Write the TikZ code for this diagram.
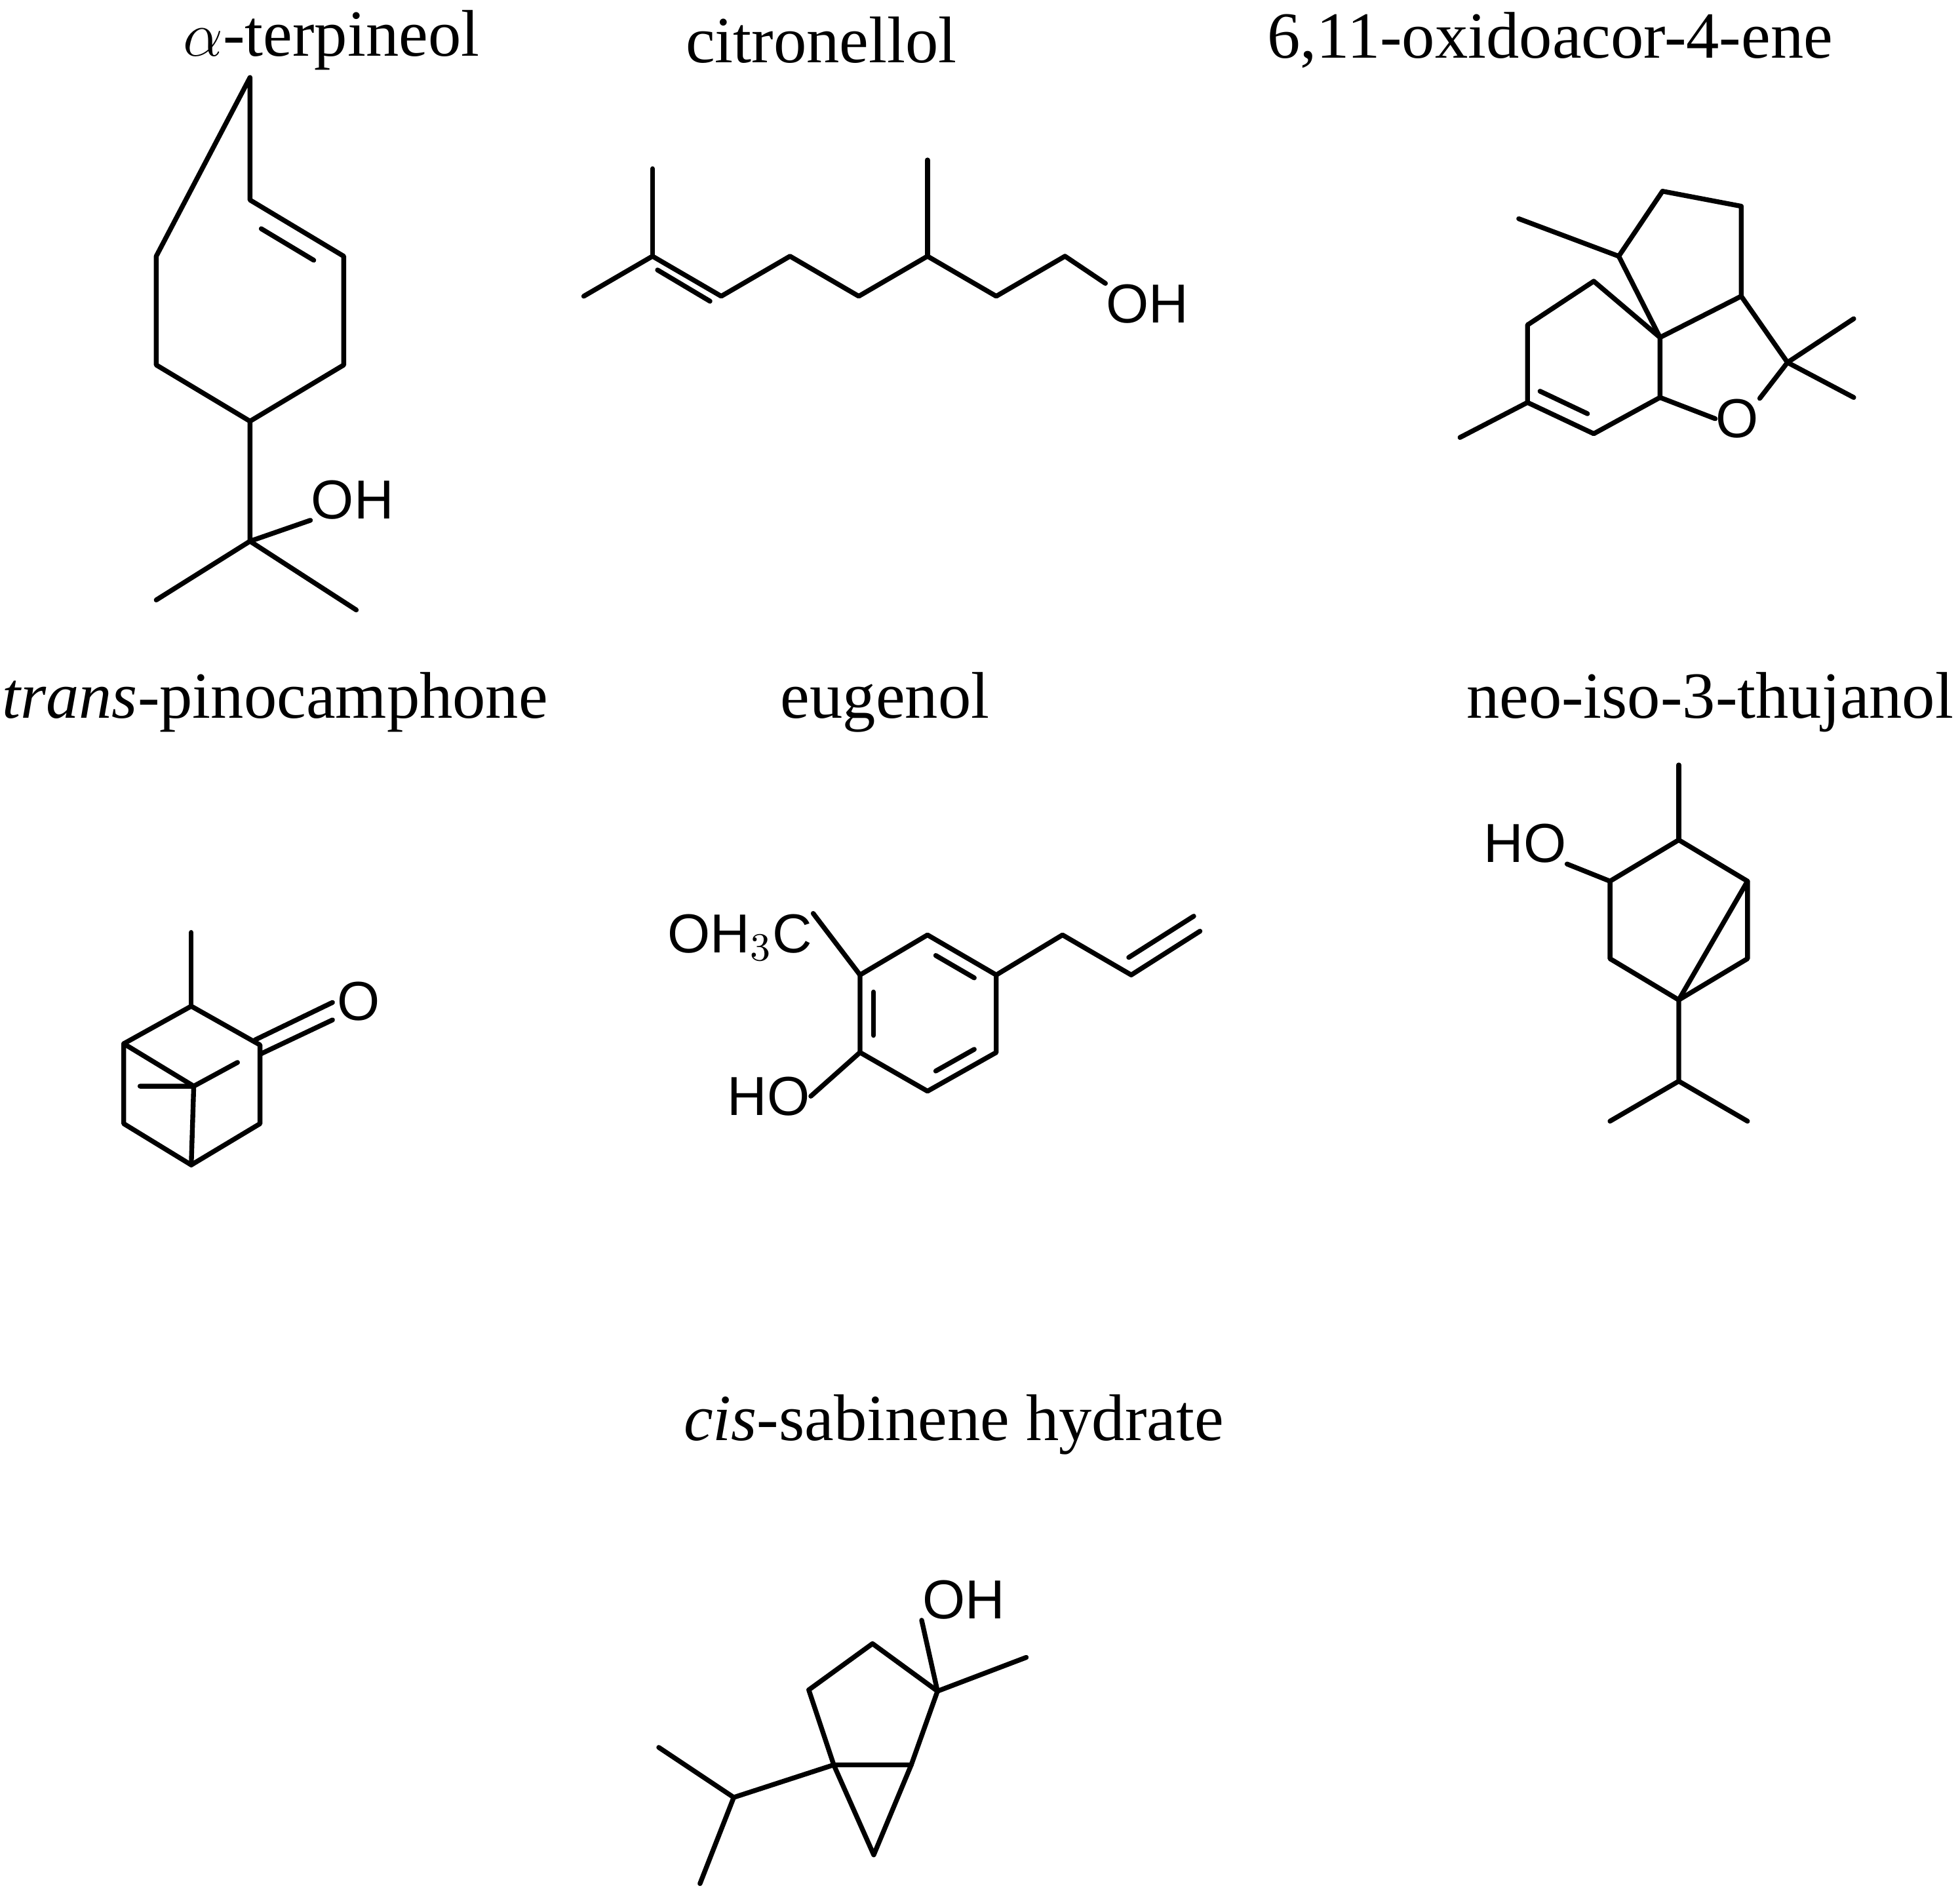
\documentclass[tikz,border=0pt]{standalone}
\usepackage{fontspec}
\setmainfont{Liberation Serif}
\newfontfamily\atomfont{Liberation Sans}
\usetikzlibrary{calc}
\tikzset{
  bond/.style={line width=1.1pt, line cap=round, line join=round},
  title/.style={font=\fontsize{15}{18}\selectfont, inner sep=0pt},
  atom/.style={font=\atomfont\fontsize{12.5}{15}\selectfont, inner sep=0pt}
}
% inner line of a ring double bond: ends a, b, ring centre c
\newcommand{\ringdbl}[3]{\draw[bond] ($($(#1)!.15!(#2)$)!.2!(#3)$) -- ($($(#2)!.15!(#1)$)!.2!(#3)$);}
\begin{document}
\begin{tikzpicture}[x=0.01cm, y=-0.01cm]
  \useasboundingbox (0,0) rectangle (1568,1516);

  % titles
  \node[title] (tterp) at (265,32) {$\alpha$-terpineol};
  \node[title] (tcitro) at (657,32) {citronellol};
  \node[title] (tacor) at (1240,32) {6,11-oxidoacor-4-ene};
  \node[title] (tpino) at (220,562) {\textit{trans}-pinocamphone};
  \node[title] (teug) at (708,562) {eugenol};
  \node[title] (tthuj) at (1368,562) {neo-iso-3-thujanol};
  \node[title] (tsab) at (763,1140) {\textit{cis}-sabinene hydrate};

  % alpha-terpineol
  \coordinate (a0) at (200,62);
  \coordinate (a1) at (200,160);
  \coordinate (a2) at (275,205);
  \coordinate (a3) at (275,292);
  \coordinate (a4) at (200,337);
  \coordinate (a5) at (125,292);
  \coordinate (a6) at (125,205);
  \coordinate (ac) at (200,248);
  \coordinate (a7) at (200,433);
  \coordinate (a8) at (125,480);
  \coordinate (a9) at (285,488);
  \node[atom] (aoh) at (282,400) {OH};
  \draw[bond] (a0) -- (a1) -- (a2) -- (a3) -- (a4) -- (a5) -- (a6) -- cycle;
  \ringdbl{a1}{a2}{ac}
  \draw[bond] (a4) -- (a7) -- (a8);
  \draw[bond] (a7) -- (a9);
  \draw[bond] (a7) -- (aoh.south west);

  % citronellol
  \coordinate (c1) at (467,237);
  \coordinate (c2) at (522,205);
  \coordinate (c3) at (522,135);
  \coordinate (c4) at (577,237);
  \coordinate (c5) at (632,205);
  \coordinate (c6) at (687,237);
  \coordinate (c7) at (742,205);
  \coordinate (c8) at (742,128);
  \coordinate (c9) at (797,237);
  \coordinate (c10) at (852,205);
  \node[atom] (coh) at (918,243) {OH};
  \draw[bond] (c1) -- (c2) -- (c4) -- (c5) -- (c6) -- (c7) -- (c9) -- (c10) -- (coh.north west);
  \draw[bond] (c2) -- (c3);
  \draw[bond] (c7) -- (c8);
  \draw[bond] (526,216) -- (568,241);

  % 6,11-oxidoacor-4-ene
  \coordinate (o1) at (1328,270);
  \coordinate (o2) at (1295,205);
  \coordinate (o3) at (1330,153);
  \coordinate (o4) at (1393,165);
  \coordinate (o5) at (1393,237);
  \coordinate (o6) at (1215,175);
  \coordinate (o7) at (1275,225);
  \coordinate (o8) at (1222,260);
  \coordinate (o9) at (1222,322);
  \coordinate (o10) at (1275,347);
  \coordinate (o11) at (1328,318);
  \coordinate (o12) at (1430,290);
  \coordinate (o13) at (1483,255);
  \coordinate (o14) at (1483,318);
  \coordinate (o15) at (1168,350);
  \node[atom] (oo) at (1390,335) {O};
  \draw[bond] (o1) -- (o2) -- (o3) -- (o4) -- (o5) -- cycle;
  \draw[bond] (o2) -- (o6);
  \draw[bond] (o1) -- (o7) -- (o8) -- (o9) -- (o10) -- (o11) -- (o1);
  \draw[bond] (o9) -- (o15);
  \draw[bond] (1232,313) -- (1270,331);
  \draw[bond] (o11) -- (oo.west);
  \draw[bond] (oo.north east) -- (o12) -- (o5);
  \draw[bond] (o12) -- (o13);
  \draw[bond] (o12) -- (o14);

  % trans-pinocamphone
  \coordinate (p0) at (153,746);
  \coordinate (p1) at (99,835);
  \coordinate (p2) at (153,805);
  \coordinate (p3) at (208,836);
  \coordinate (p4) at (208,899);
  \coordinate (p5) at (153,932);
  \coordinate (p6) at (99,899);
  \coordinate (p7) at (155,869);
  \coordinate (p8) at (112,869);
  \coordinate (p9) at (190,850);
  \node[atom] (po) at (287,801) {O};
  \draw[bond] (p1) -- (p2) -- (p3) -- (p4) -- (p5) -- (p6) -- cycle;
  \draw[bond] (p0) -- (p2);
  \draw[bond] (p1) -- (p7) -- (p5);
  \draw[bond] (p8) -- (p7) -- (p9);
  \draw[bond] (204,832) -- (266,802);
  \draw[bond] (209,843) -- (266,816);

  % eugenol
  \coordinate (e1) at (688,780);
  \coordinate (e2) at (742,748);
  \coordinate (e3) at (797,780);
  \coordinate (e4) at (797,842);
  \coordinate (e5) at (742,873);
  \coordinate (e6) at (688,842);
  \coordinate (ec) at (742,811);
  \coordinate (e7) at (850,748);
  \coordinate (e8) at (905,780);
  \coordinate (e9) at (960,745);
  \node[atom] (eome) at (592,750) {OH$_3$C};
  \node[atom] (eoh) at (615,877) {HO};
  \draw[bond] (e1) -- (e2) -- (e3) -- (e4) -- (e5) -- (e6) -- cycle;
  \ringdbl{e2}{e3}{ec}
  \ringdbl{e1}{e6}{ec}
  \ringdbl{e4}{e5}{ec}
  \draw[bond] (e3) -- (e7) -- (e8) -- (e9);
  \draw[bond] (903,766) -- (955,733);
  \draw[bond] (e1) -- (eome.north east);
  \draw[bond] (e6) -- (eoh.east);

  % neo-iso-3-thujanol
  \coordinate (t0) at (1343,612);
  \coordinate (t1) at (1343,672);
  \coordinate (t2) at (1398,705);
  \coordinate (t3) at (1398,767);
  \coordinate (t4) at (1343,800);
  \coordinate (t5) at (1288,767);
  \coordinate (t6) at (1288,705);
  \coordinate (t7) at (1343,865);
  \coordinate (t8) at (1288,897);
  \coordinate (t9) at (1398,897);
  \node[atom] (toh) at (1220,675) {HO};
  \draw[bond] (t1) -- (t2) -- (t3) -- (t4) -- (t5) -- (t6) -- cycle;
  \draw[bond] (t0) -- (t1);
  \draw[bond] (t2) -- (t4) -- (t7) -- (t8);
  \draw[bond] (t7) -- (t9);
  \draw[bond] (t6) -- (toh.south east);

  % cis-sabinene hydrate
  \coordinate (s1) at (667,1412);
  \coordinate (s2) at (647,1352);
  \coordinate (s3) at (698,1315);
  \coordinate (s4) at (750,1353);
  \coordinate (s5) at (729,1412);
  \coordinate (s6) at (699,1484);
  \coordinate (s7) at (821,1326);
  \coordinate (s8) at (587,1438);
  \coordinate (s9) at (527,1398);
  \coordinate (s10) at (560,1507);
  \node[atom] (soh) at (771,1280) {OH};
  \draw[bond] (s1) -- (s2) -- (s3) -- (s4) -- (s5) -- cycle;
  \draw[bond] (s1) -- (s6) -- (s5);
  \draw[bond] (s4) -- (s7);
  \draw[bond] (s4) -- (soh.south west);
  \draw[bond] (s1) -- (s8) -- (s9);
  \draw[bond] (s8) -- (s10);
\end{tikzpicture}
\end{document}
